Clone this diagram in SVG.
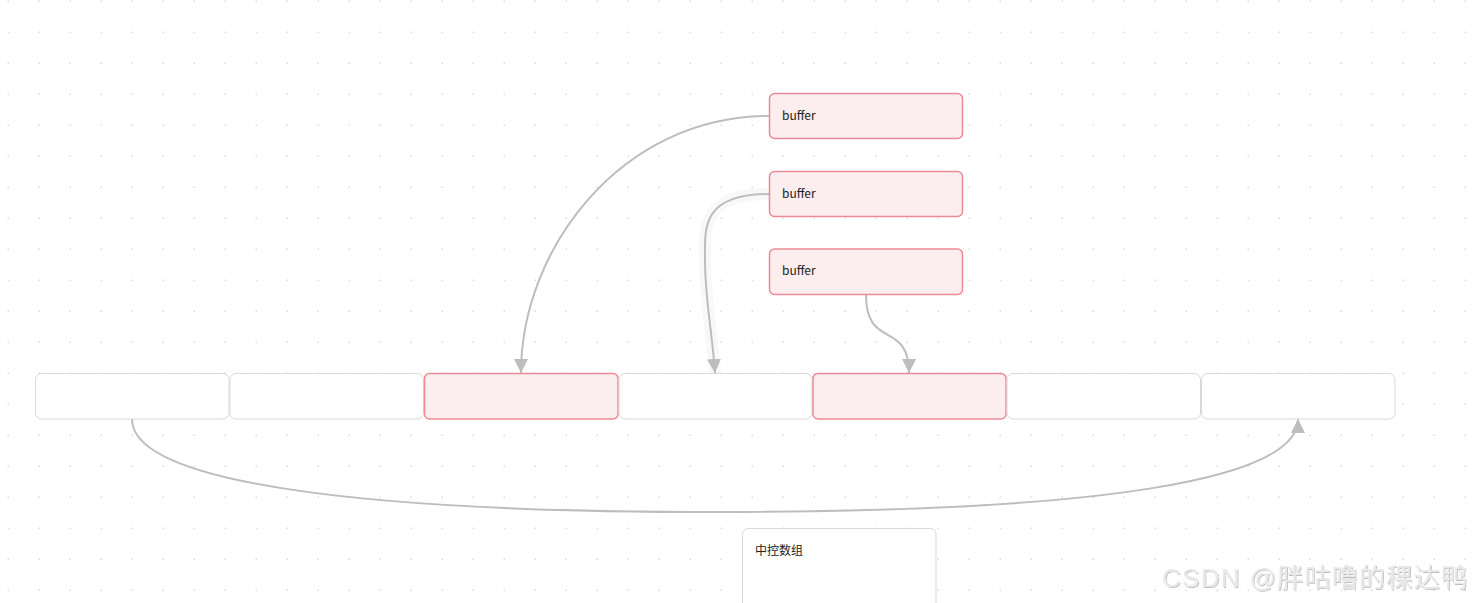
<svg xmlns="http://www.w3.org/2000/svg" width="1473" height="603" viewBox="0 0 1473 603">
<defs>
<pattern id="dots" x="7" y="0" width="31" height="31" patternUnits="userSpaceOnUse">
<rect x="0.5" y="0.5" width="1.5" height="1.5" fill="#dcdcdc"/>
</pattern>
<marker id="arrL" viewBox="0 0 14 14" refX="14" refY="7" markerWidth="14" markerHeight="14" markerUnits="userSpaceOnUse" orient="auto">
<path d="M0,0 L14,7 L0,14 z" fill="#bdbdbd"/>
</marker>
<filter id="sh" x="-5%" y="-20%" width="110%" height="150%">
<feDropShadow dx="1" dy="1" stdDeviation="0.6" flood-color="#000" flood-opacity="0.25"/>
</filter>
</defs>
<style>
.cell{fill:#ffffff;stroke:#d9d9d9;stroke-width:1}
.pink{fill:#fcedef;stroke:#ee8a95;stroke-width:1.5}
.lbl{font-family:"Microsoft YaHei","Noto Sans CJK SC","Noto Sans",sans-serif;font-size:12px;fill:#222}
.con{fill:none;stroke:#bdbdbd;stroke-width:2}
</style>
<rect width="1473" height="603" fill="#ffffff"/>
<rect width="1473" height="603" fill="url(#dots)"/>

<g id="connectors">
<path class="con" d="M769,116 C620,116 521,250 521,373" marker-end="url(#arrL)"/>
<path d="M769,194 C700,194 705,230 705,260 C705,300 712,330 715,373" fill="none" stroke="#f8f8f8" stroke-width="12" stroke-linecap="round"/>
<path class="con" d="M769,194 C700,194 705,230 705,260 C705,300 712,330 715,373" stroke-width="3" marker-end="url(#arrL)"/>
<path class="con" d="M866,295 C866,350 909,320 909,373" marker-end="url(#arrL)"/>
<path class="con" d="M132,419 C132,480 340,512 715,512 C1100,512 1298,480 1298,419" marker-end="url(#arrL)"/>
</g>

<g id="buffer1"><rect class="pink" x="769.5" y="93.5" width="193" height="45" rx="5"/><text class="lbl" x="782" y="120">buffer</text></g>
<g id="buffer2"><rect class="pink" x="769.5" y="171.5" width="193" height="45" rx="5"/><text class="lbl" x="782" y="198">buffer</text></g>
<g id="buffer3"><rect class="pink" x="769.5" y="249" width="193" height="45.5" rx="5"/><text class="lbl" x="782" y="275">buffer</text></g>

<g id="cell1"><rect class="cell" x="35.5" y="373.5" width="193.5" height="45.5" rx="6"/></g>
<g id="cell2"><rect class="cell" x="230" y="373.5" width="193.5" height="45.5" rx="6"/></g>
<g id="cell3"><rect class="pink" x="424.5" y="373.5" width="193.5" height="45.5" rx="5"/></g>
<g id="cell4"><rect class="cell" x="619" y="373.5" width="193" height="45.5" rx="6"/></g>
<g id="cell5"><rect class="pink" x="813" y="373.5" width="193" height="45.5" rx="5"/></g>
<g id="cell6"><rect class="cell" x="1007" y="373.5" width="193.5" height="45.5" rx="6"/></g>
<g id="cell7"><rect class="cell" x="1201.5" y="373.5" width="193.5" height="45.5" rx="6"/></g>

<g id="control"><rect class="cell" x="742.5" y="528.5" width="193.5" height="90" rx="6"/><text class="lbl" x="755" y="555">中控数组</text></g>

<text x="1162" y="587" font-family="Arial, 'Liberation Sans','Noto Sans CJK SC',sans-serif" font-size="26" fill="#e8e8e8" filter="url(#sh)" textLength="305" lengthAdjust="spacing">CSDN @胖咕噜的稞达鸭</text>
</svg>
